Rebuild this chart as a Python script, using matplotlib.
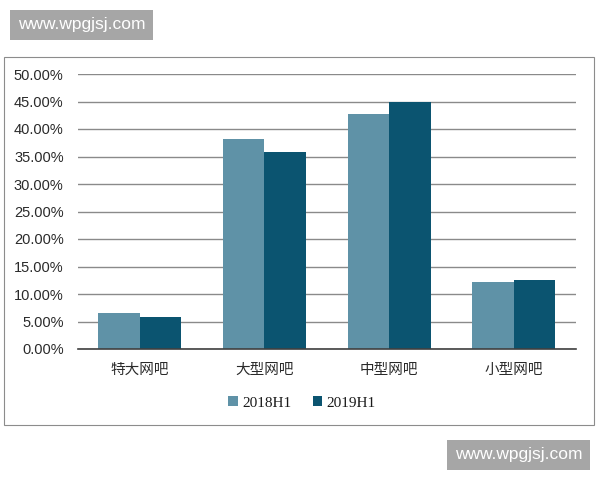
import matplotlib
matplotlib.use("Agg")
import matplotlib.pyplot as plt
import numpy as np
from matplotlib.patches import Rectangle
from matplotlib.ticker import FuncFormatter

categories = ["特大网吧", "大型网吧", "中型网吧", "小型网吧"]
series_names = ["2018H1", "2019H1"]
values_2018 = [6.6, 38.1, 42.8, 12.1]
values_2019 = [5.9, 35.8, 45.0, 12.6]
yticks = [0, 5, 10, 15, 20, 25, 30, 35, 40, 45, 50]

colors = ["#5f92a7", "#0b5470"]

fig = plt.figure(figsize=(6, 4.8), dpi=100)
fig.patch.set_facecolor("white")

# outer chart frame
fig.patches.append(Rectangle((4/600, 1-425/480), 590/600, 368/480, transform=fig.transFigure,
                             fill=False, edgecolor="#8c8c8c", linewidth=0.8, zorder=0))

ax = fig.add_axes([77.5/600, 1-349/480, 498.5/600, 275/480])
x = np.arange(len(categories))
w = 1/3
b1 = ax.bar(x - w/2, values_2018, width=w, color=colors[0], label=series_names[0], zorder=3)
b2 = ax.bar(x + w/2, values_2019, width=w, color=colors[1], label=series_names[1], zorder=3)

ax.set_xlim(-0.5, len(categories) - 0.5)
ax.set_ylim(0, 50)
ax.set_yticks(yticks)
ax.yaxis.set_major_formatter(FuncFormatter(lambda v, p: f"{v:.2f}%"))
ax.grid(axis="y", color="#8a8a8a", linewidth=1.0, zorder=0)
ax.set_axisbelow(True)
for s in ["top", "right", "left"]:
    ax.spines[s].set_visible(False)
ax.spines["bottom"].set_color("#404040")
ax.spines["bottom"].set_linewidth(1.2)
ax.spines["bottom"].set_zorder(4)
ax.tick_params(axis="both", length=0)
ax.tick_params(axis="y", pad=10)
ax.tick_params(axis="x", pad=10)
ax.set_xticks(x)
ax.set_xticklabels(categories, fontsize=10.5, family=["Noto Sans CJK SC", "DejaVu Sans"], color="#2a2a2a")
for lab in ax.get_yticklabels():
    lab.set_family("Liberation Sans")
    lab.set_fontsize(10.5)
    lab.set_color("#2a2a2a")

leg = fig.legend(handles=[b1, b2], labels=series_names, loc="center",
                 bbox_to_anchor=(302/600, 1-403/480), ncol=2, frameon=False,
                 prop={"family": "Liberation Serif", "size": 11},
                 handlelength=0.6, handleheight=0.6, handletextpad=0.3, columnspacing=1.4)
for t in leg.get_texts():
    t.set_color("#1a1a1a")

# watermarks
def watermark(x0, y0, x1, y1):
    fig.patches.append(Rectangle((x0/600, 1-y1/480), (x1-x0)/600, (y1-y0)/480,
                                 transform=fig.transFigure, facecolor="#a6a6a6",
                                 edgecolor="none", zorder=5))
    fig.text((x0+x1)/2/600, 1-(y0+y1)/2/480, "www.wpgjsj.com", color="white",
             fontsize=12.5, family="Liberation Sans", ha="center", va="center", zorder=6)

watermark(10, 10, 153, 40)
watermark(447, 440, 590, 470)

fig.savefig("out.png", dpi=100)
